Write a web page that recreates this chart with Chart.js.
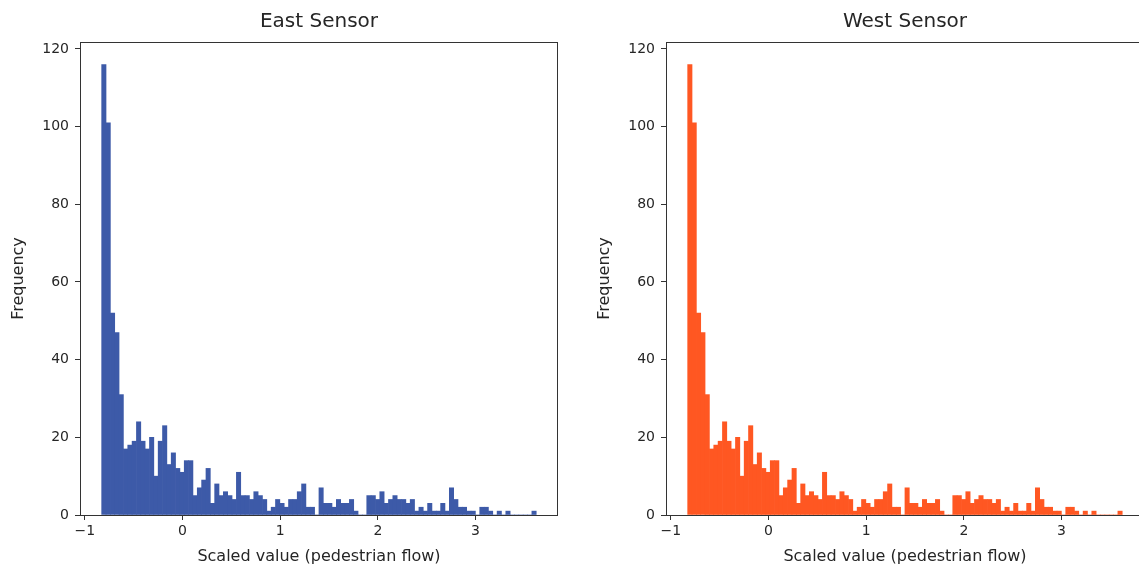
<!DOCTYPE html>
<html>
<head>
<meta charset="utf-8">
<script src="https://cdn.jsdelivr.net/npm/chart.js@4.4.1/dist/chart.umd.min.js"></script>
<style>
  html, body { margin: 0; padding: 0; background: #fff; overflow: hidden; }
  .panel { position: absolute; top: 0; width: 586px; height: 571px; }
  #eastBox { left: 0; }
  #westBox { left: 586px; }
</style>
</head>
<body>
<div class="panel" id="eastBox"><canvas id="eastChart"></canvas></div>
<div class="panel" id="westBox"><canvas id="westChart"></canvas></div>
<script>
// Histograms of scaled pedestrian flow (100 bins, same edges for both sensors)

const binStart = -0.828;
const binWidth = 0.0445;

const eastCounts = [
    116, 101, 52, 47, 31, 17, 18, 19, 24, 19,
    17, 20, 10, 19, 23, 13, 16, 12, 11, 14,
    14, 5, 7, 9, 12, 3, 8, 5, 6, 5,
    4, 11, 5, 5, 4, 6, 5, 4, 1, 2,
    4, 3, 2, 4, 4, 6, 8, 2, 2, 0,
    7, 3, 3, 2, 4, 3, 3, 4, 1, 0,
    0, 5, 5, 4, 6, 3, 4, 5, 4, 4,
    3, 4, 1, 2, 1, 3, 1, 1, 3, 1,
    7, 4, 2, 2, 1, 1, 0, 2, 2, 1,
    0, 1, 0, 1, 0, 0, 0, 0, 0, 1,
];

const westCounts = [
    116, 101, 52, 47, 31, 17, 18, 19, 24, 19,
    17, 20, 10, 19, 23, 13, 16, 12, 11, 14,
    14, 5, 7, 9, 12, 3, 8, 5, 6, 5,
    4, 11, 5, 5, 4, 6, 5, 4, 1, 2,
    4, 3, 2, 4, 4, 6, 8, 2, 2, 0,
    7, 3, 3, 2, 4, 3, 3, 4, 1, 0,
    0, 5, 5, 4, 6, 3, 4, 5, 4, 4,
    3, 4, 1, 2, 1, 3, 1, 1, 3, 1,
    7, 4, 2, 2, 1, 1, 0, 2, 2, 1,
    0, 1, 0, 1, 0, 0, 0, 0, 0, 1,
];

const xTicks = [-1, 0, 1, 2, 3];
const yTicks = [0, 20, 40, 60, 80, 100, 120];

const textColor = "#262626";
const font = "'DejaVu Sans', sans-serif";

// box around the plot area, like matplotlib spines
const frame = {
    id: "frame",
    afterDatasetsDraw(chart) {
        const { ctx, chartArea: a } = chart;
        ctx.save();
        ctx.strokeStyle = "#333";
        ctx.lineWidth = 1;
        ctx.strokeRect(Math.round(a.left) + 0.5, Math.round(a.top) + 0.5,
            Math.round(a.right - a.left) - 1, Math.round(a.bottom - a.top));
        ctx.restore();
    },
};

function minus(v) {
    return String(v).replace("-", "\u2212");
}

function histogram(id, title, counts, color) {
    const points = counts.map((c, i) => ({ x: binStart + (i + 0.5) * binWidth, y: c }));
    return new Chart(document.getElementById(id), {
        type: "bar",
        data: {
            datasets: [{
                data: points,
                backgroundColor: color,
                borderWidth: 0,
                barPercentage: 1,
                categoryPercentage: 1,
            }],
        },
        options: {
            responsive: true,
            maintainAspectRatio: false,
            animation: false,
            layout: { padding: { left: 0, right: 28, top: 0, bottom: 0 } },
            plugins: {
                legend: { display: false },
                tooltip: { enabled: false },
                title: {
                    display: true,
                    fullSize: false,
                    text: title,
                    color: textColor,
                    font: { family: font, size: 20, weight: "normal" },
                    padding: { top: 10, bottom: 8 },
                },
            },
            scales: {
                x: {
                    type: "linear",
                    offset: false,
                    min: -1.05,
                    max: 3.845,
                    afterBuildTicks: (s) => { s.ticks = xTicks.map((v) => ({ value: v })); },
                    afterFit: (s) => { s.height = 56; },
                    grid: { offset: false, drawOnChartArea: false, drawTicks: true, tickLength: 5, color: "#333" },
                    border: { display: false },
                    ticks: {
                        color: textColor,
                        padding: 3,
                        maxRotation: 0,
                        font: { family: font, size: 14 },
                        callback: (v) => minus(v),
                    },
                    title: {
                        display: true,
                        text: "Scaled value (pedestrian flow)",
                        color: textColor,
                        font: { family: font, size: 16 },
                        padding: { top: 2, bottom: 5 },
                    },
                },
                y: {
                    min: 0,
                    max: 121.8,
                    afterBuildTicks: (s) => { s.ticks = yTicks.map((v) => ({ value: v })); },
                    afterFit: (s) => { s.width = 80; },
                    grid: { drawOnChartArea: false, drawTicks: true, tickLength: 5, color: "#333" },
                    border: { display: false },
                    ticks: {
                        color: textColor,
                        padding: 6,
                        font: { family: font, size: 14 },
                    },
                    title: {
                        display: true,
                        text: "Frequency",
                        color: textColor,
                        font: { family: font, size: 16 },
                        padding: { top: 9, bottom: 4 },
                    },
                },
            },
        },
        plugins: [frame],
    });
}

histogram("eastChart", "East Sensor", eastCounts, "#3d5aa8");
histogram("westChart", "West Sensor", westCounts, "#ff5722");
</script>
</body>
</html>
